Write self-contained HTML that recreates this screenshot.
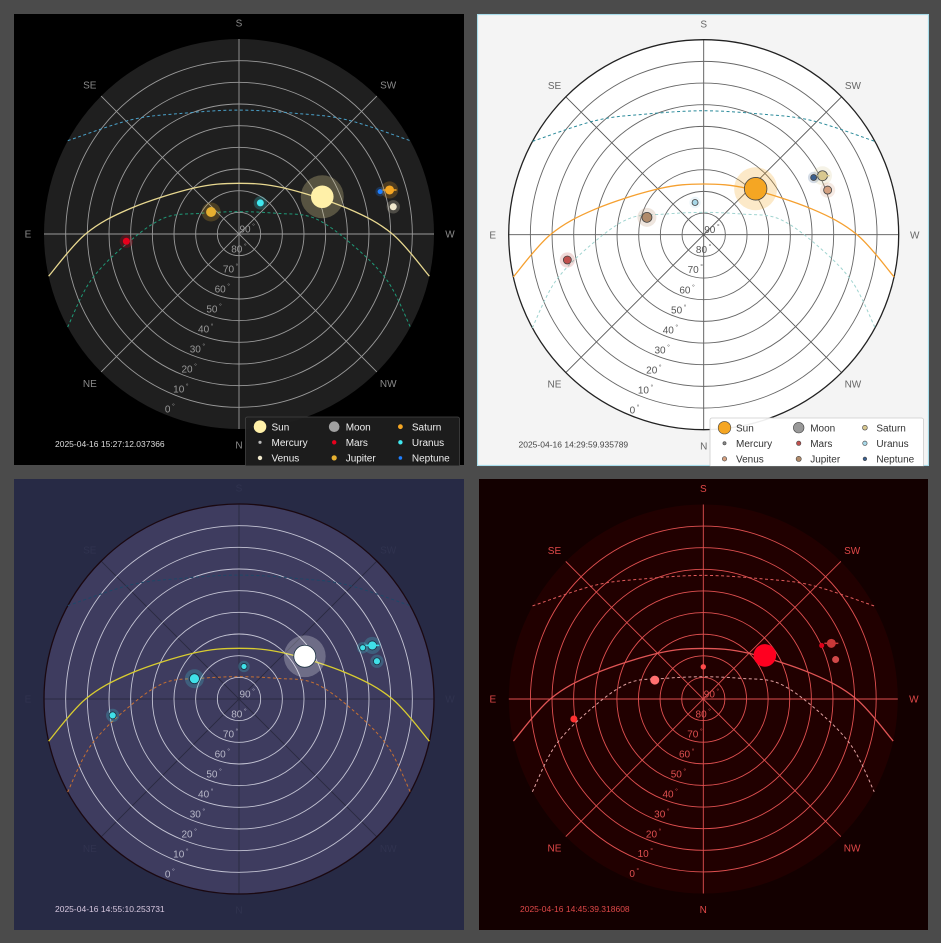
<!DOCTYPE html>
<html><head><meta charset="utf-8"><style>
html,body{margin:0;padding:0;background:#4b4b4b;}
svg{display:block;font-family:"Liberation Sans","DejaVu Sans",sans-serif;}
</style></head><body>
<svg id="root" width="941" height="943" viewBox="0 0 941 943">
<rect x="0" y="0" width="941" height="943" fill="#4b4b4b"/>
<defs id="defs"></defs>
</svg>
<script>
// ---------- DATA ----------
const bodyNames = ["Sun","Mercury","Venus","Moon","Mars","Jupiter","Saturn","Uranus","Neptune"];
const legendOrder = ["Sun","Moon","Saturn","Mercury","Mars","Uranus","Venus","Jupiter","Neptune"];
// panel 1 (dark)
const p1Bodies = ["Sun","Jupiter","Uranus","Mars","Saturn","Neptune","Venus"];
const p1Alt = [47.9, 73.6, 72.6, 37.9, 17.6, 22.0, 17.7];
const p1Az  = [245.9, 128.2, 214.5, 86.3, 253.7, 253.3, 260.0];
// panel 2 (light)
const p2Bodies = ["Sun","Jupiter","Uranus","Mars","Saturn","Neptune","Venus"];
const p2Alt = [58.0, 62.6, 74.6, 26.0, 28.8, 32.8, 29.2];
const p2Az  = [228.5, 107.0, 165.0, 79.5, 243.6, 242.5, 250.2];
// panel 3 (navy)
const p3Bodies = ["Sun","Jupiter","Uranus","Mars","Saturn","Neptune","Venus"];
const p3Alt = [53.8, 67.4, 74.8, 31.2, 23.7, 28.2, 24.0];
const p3Az  = [237.0, 114.5, 188.7, 82.6, 248.1, 247.5, 254.7];
// panel 4 (red)
const p4Bodies = ["Sun","Jupiter","Uranus","Mars","Saturn","Neptune","Venus"];
const p4Alt = [55.1, 65.9, 75.1, 29.4, 25.4, 29.9, 26.1];
const p4Az  = [234.7, 111.3, 180.0, 81.2, 246.5, 245.7, 253.4];
// paths (az/alt samples)
const sunPathAz  = [77.5, 90, 103.3, 135.6, 180, 224.4, 256.7, 270, 282.5];
const sunPathAlt = [0, 19.2, 38.6, 60.3, 66.6, 60.3, 38.6, 19.2, 0];
const upperPathAz  = [118.6, 136.5, 154.2, 180, 205.8, 223.5, 241.4];
const upperPathAlt = [0, 17.4, 28.2, 32.8, 28.2, 17.4, 0];
const lowerPathAz  = [61.5, 72.5, 84.9, 102, 118.3, 180, 241.7, 258, 275.1, 287.5, 298.5];
const lowerPathAlt = [0, 18.2, 37.8, 54.6, 69.9, 79.7, 69.9, 54.6, 37.8, 18.2, 0];
const altTicks = [90, 80, 70, 60, 50, 40, 30, 20, 10, 0];
const dirLabels = ["N","NE","E","SE","S","SW","W","NW"];
const dirAz = [0, 45, 90, 135, 180, 225, 270, 315];

// ---------- STYLE ----------
const NS = "http://www.w3.org/2000/svg";
const root = document.getElementById("root");
const defs = document.getElementById("defs");
function el(tag, attrs, parent){const e=document.createElementNS(NS,tag);for(const k in attrs)e.setAttribute(k,attrs[k]);(parent||root).appendChild(e);return e;}

const panels = [
 {key:"p1",x:14,y:14,w:450,h:451,cx:239,cy:234,R:195,bg:"#000",fill:"#1f1f1f",edge:"none",ring:"#9a9a9a",spoke:"#9a9a9a",dir:"#8a8a8a",alt:"#9a9a9a",ts:"#dddddd",
  time:"2025-04-16 15:27:12.037366",sunPath:"#e8d890",upper:"#4aa0c8",lower:"#1f9a78",border:null,
  names:p1Bodies,alts:p1Alt,azs:p1Az,
  col:{Sun:"#fff0a8",Mercury:"#bbbbbb",Venus:"#f0e8cc",Moon:"#a0a0a0",Mars:"#e8001c",Jupiter:"#e6b030",Saturn:"#f5a623",Uranus:"#40e8f0",Neptune:"#1e7fff"},
  sz:{Sun:11.3,Jupiter:5,Uranus:3.5,Mars:3.5,Saturn:4.5,Neptune:2.5,Venus:3.5},halo:true,bstroke:"none",
  legend:{x:245.5,y:417,w:214,h:52,bg:"#1e1e1e",border:"#444",text:"#eeeeee"}},
 {key:"p2",x:477.5,y:14.5,w:451,h:451,cx:703.7,cy:234.7,R:195,bg:"#f4f4f4",fill:"#ffffff",edge:"#222",ring:"#666",spoke:"#555",dir:"#666",alt:"#555",ts:"#444",
  time:"2025-04-16 14:29:59.935789",sunPath:"#f5a030",upper:"#2a8a9a",lower:"#a0d4d0",border:"#a8dcea",
  names:p2Bodies,alts:p2Alt,azs:p2Az,
  col:{Sun:"#f5a623",Mercury:"#888888",Venus:"#d4a080",Moon:"#999999",Mars:"#c0504d",Jupiter:"#b08a6a",Saturn:"#d8c890",Uranus:"#a8d8e8",Neptune:"#3a5f8f"},
  sz:{Sun:11.3,Jupiter:5,Uranus:3,Mars:4,Saturn:5,Neptune:3,Venus:4},halo:true,bstroke:"#444",
  legend:{x:710,y:418,w:213.5,h:52,bg:"#ffffff",border:"#cccccc",text:"#333333"}},
 {key:"p3",x:14,y:479,w:450,h:451,cx:239,cy:699,R:195,bg:"#272a45",fill:"#3e3c5f",edge:"#1a0810",ring:"#c4c4d4",spoke:"#2a2a40",dir:"#30334f",alt:"#b8b8c8",ts:"#d8c8e0",
  time:"2025-04-16 14:55:10.253731",sunPath:"#d8cc30",upper:"#1e4868",lower:"#c87030",border:null,
  names:p3Bodies,alts:p3Alt,azs:p3Az,
  col:{Sun:"#ffffff",Mercury:"#40e0e8",Venus:"#40e0e8",Moon:"#40e0e8",Mars:"#40e0e8",Jupiter:"#40e0e8",Saturn:"#40e0e8",Uranus:"#40e0e8",Neptune:"#40e0e8"},
  sz:{Sun:11,Jupiter:5,Uranus:3,Mars:3.5,Saturn:4.5,Neptune:3,Venus:3.5},halo:true,bstroke:"#1a3040",legend:null},
 {key:"p4",x:479,y:479,w:449,h:451,cx:703.3,cy:699,R:194.5,bg:"#130000",fill:"#210000",edge:"none",ring:"#e05050",spoke:"#e05050",dir:"#e04848",alt:"#e05050",ts:"#e04848",
  time:"2025-04-16 14:45:39.318608",sunPath:"#e05555",upper:"#e05a5a",lower:"#e0a0a0",border:null,
  names:p4Bodies,alts:p4Alt,azs:p4Az,
  col:{Sun:"#ff0020",Mercury:"#ff4040",Venus:"#d04848",Moon:"#cc3030",Mars:"#ff3030",Jupiter:"#ff7070",Saturn:"#c83838",Uranus:"#ff4a4a",Neptune:"#e0001a"},
  sz:{Sun:11.3,Jupiter:4.5,Uranus:2.7,Mars:3.5,Saturn:4.5,Neptune:2.5,Venus:3.5},halo:false,bstroke:"none",legend:null}
];

function smooth(pts){
  let d="M"+pts[0][0].toFixed(2)+","+pts[0][1].toFixed(2);
  for(let i=0;i<pts.length-1;i++){
    const p0=pts[i-1]||pts[i],p1=pts[i],p2=pts[i+1],p3=pts[i+2]||pts[i+1];
    const c1=[p1[0]+(p2[0]-p0[0])/6,p1[1]+(p2[1]-p0[1])/6];
    const c2=[p2[0]-(p3[0]-p1[0])/6,p2[1]-(p3[1]-p1[1])/6];
    d+=" C"+c1[0].toFixed(2)+","+c1[1].toFixed(2)+" "+c2[0].toFixed(2)+","+c2[1].toFixed(2)+" "+p2[0].toFixed(2)+","+p2[1].toFixed(2);
  }
  return d;
}

panels.forEach(P=>{
  const cp=el("clipPath",{id:"clip-"+P.key},defs);
  el("rect",{x:P.x-0.6,y:P.y-0.6,width:P.w+1.2,height:P.h+1.2},cp);
  const g=el("g",{"clip-path":"url(#clip-"+P.key+")"});
  
  
  const rScale = alt => (90-alt)*P.R/90;
  const px = (az,alt)=>[P.cx - rScale(alt)*Math.sin(az*Math.PI/180), P.cy + rScale(alt)*Math.cos(az*Math.PI/180)];
  const bg=el("rect",{x:P.x,y:P.y,width:P.w,height:P.h,fill:P.bg,stroke:P.border||"none","stroke-width":P.border?1.2:0},g);
  
  
  const disc=el("circle",{cx:P.cx,cy:P.cy,r:P.R,fill:P.fill},g);
  
  
  [0,45,90,135].forEach(a=>{
    const p=px(a,0),q=px(a+180,0);
    const l=el("line",{x1:p[0],y1:p[1],x2:q[0],y2:q[1],stroke:P.spoke,"stroke-width":0.9},g);
    
    
  });
  altTicks.forEach(a=>{
    if(a===90||a===0) return;
    const c=el("circle",{cx:P.cx,cy:P.cy,r:rScale(a),fill:"none",stroke:P.ring,"stroke-width":0.9},g);
    
    
  });
  if(P.edge!=="none"){
    const e=el("circle",{cx:P.cx,cy:P.cy,r:P.R,fill:"none",stroke:P.edge,"stroke-width":1.3},g);
    
    
  }
  altTicks.forEach(a=>{
    const p=px(22.5,a);
    const t=el("text",{x:p[0]+0.5,y:p[1]-1.5,fill:P.alt,"font-size":10},g);
    
    
    t.textContent=String(a);
    const s=el("tspan",{dx:1.5,dy:-4,"font-size":7},t);s.textContent="°";
  });
  dirLabels.forEach((d,i)=>{
    const a=dirAz[i];
    const x=P.cx-(P.R+16)*Math.sin(a*Math.PI/180), y=P.cy+(P.R+16)*Math.cos(a*Math.PI/180);
    const t=el("text",{x:x,y:y+3.6,fill:P.dir,"font-size":10,"text-anchor":"middle"},g);
    
    
    t.textContent=d;
  });
  const mk=(azs,alts,color,dash,name,w)=>{
    const pts=azs.map((a,i)=>px(a,alts[i]));
    const p=el("path",{d:smooth(pts),fill:"none",stroke:color,"stroke-width":w,"stroke-dasharray":dash},g);
    
    
  };
  mk(upperPathAz,upperPathAlt,P.upper,"3,2.5","upper-dashed-path",1);
  mk(lowerPathAz,lowerPathAlt,P.lower,"3,2.5","lower-dashed-path",1);
  mk(sunPathAz,sunPathAlt,P.sunPath,"none","sun-path",1.3);
  P.names.forEach((n,i)=>{
    const p=px(P.azs[i],P.alts[i]);
    const r=P.sz[n], c=P.col[n];
    if(P.halo){
      const h=el("circle",{cx:p[0],cy:p[1],r:r*1.9,fill:c,"fill-opacity":n==="Sun"?0.25:0.22},g);
      
      
    }
    const b=el("circle",{cx:p[0],cy:p[1],r:r,fill:c,stroke:P.bstroke,"stroke-width":0.8},g);
    
    
    if(n==="Saturn"){
      const l=el("line",{x1:p[0]-7,y1:p[1],x2:p[0]+7,y2:p[1],stroke:c,"stroke-width":1.5},g);
      
      
    }
  });
  const ts=el("text",{x:P.x+41,y:P.y+433,fill:P.ts,"font-size":8.5},g);
  
  
  ts.textContent=P.time;
  if(P.legend){
    const L=P.legend;
    const lg=el("g",{},g);
    
    
    el("rect",{x:L.x,y:L.y,width:L.w,height:L.h,rx:2,fill:L.bg,"fill-opacity":0.92,stroke:L.border,"stroke-width":0.8},lg);
    const legR={Sun:6.3,Moon:5.3,Mercury:1.6,Venus:2.2,Mars:2.2,Jupiter:2.6,Saturn:2.4,Uranus:2.2,Neptune:1.8};
    legendOrder.forEach((n,i)=>{
      const col=i%3,row=Math.floor(i/3);
      const mx=L.x+14.5+col*74.2+(col===2?-8:0), my=L.y+9.7+row*15.6;
      const m=el("circle",{cx:mx,cy:my,r:legR[n],fill:P.col[n],stroke:P.bstroke,"stroke-width":0.6},lg);
      
      
      const t=el("text",{x:mx+11.5,y:my+3.6,fill:L.text,"font-size":10},lg);
      
      
      t.textContent=n;
    });
  }
});
</script>
</body></html>
